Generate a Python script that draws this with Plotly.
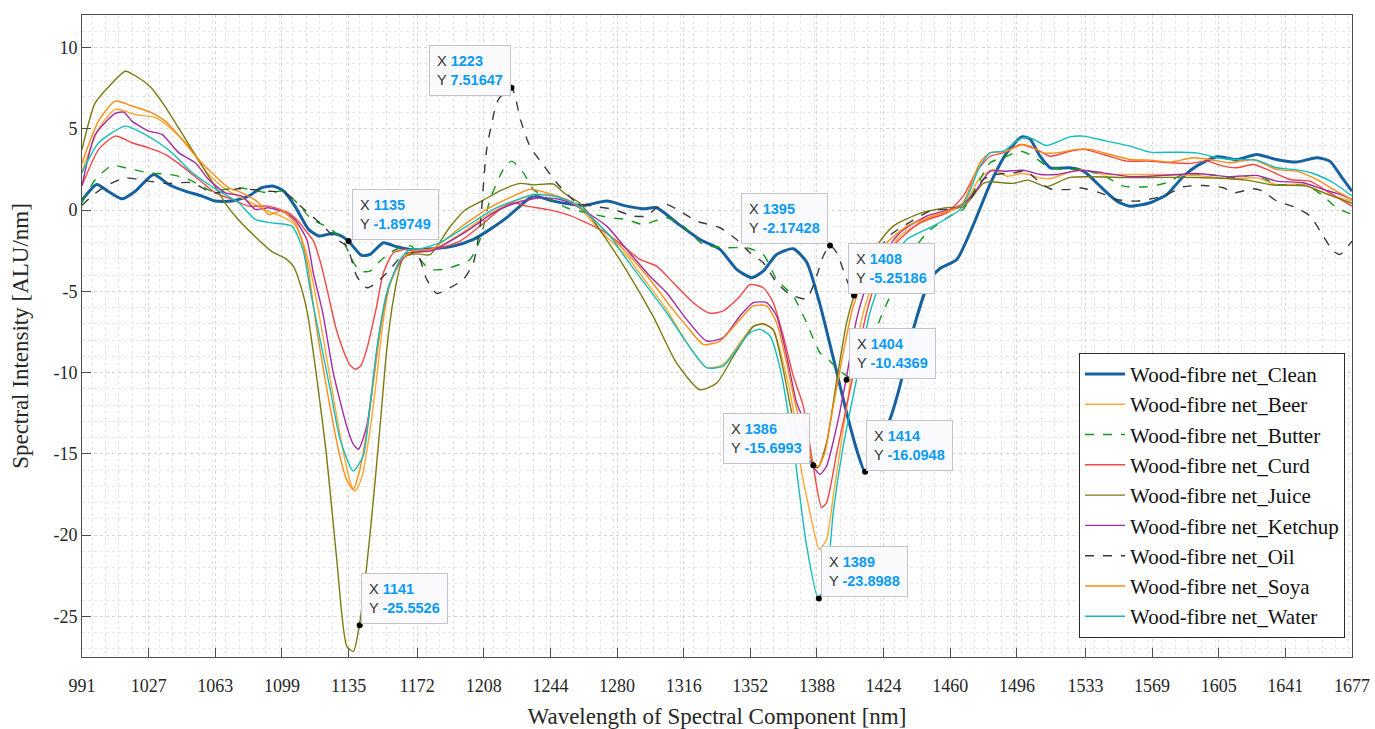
import plotly.graph_objects as go

# ---------------- data ----------------
clean_x = [991, 999, 1005, 1012.6, 1019.8, 1029.7, 1037.8, 1046.8, 1055.8, 1063, 1072, 1081, 1088, 1094.5, 1100, 1106,
           1113.4, 1119, 1126, 1130.4, 1134.8, 1142, 1146.6, 1153.8, 1161, 1168.2, 1180.8, 1191.6, 1202.4, 1211.4,
           1220.4, 1227.6, 1234.8, 1245.6, 1256.4, 1262, 1274.4, 1285.2, 1294.2, 1301.4, 1312.2, 1324.8, 1335.6,
           1344.6, 1352.7, 1359, 1366.2, 1375.2, 1382.4, 1389.6, 1396.8, 1404, 1409.4, 1414, 1420, 1427.4, 1432.8,
           1440, 1449, 1454.4, 1463.5, 1472.5, 1481.5, 1490.5, 1498.6, 1503, 1508.5, 1514, 1524.7, 1532, 1542.7,
           1550, 1557, 1568, 1577, 1586, 1593, 1604, 1614.7, 1625.5, 1636.3, 1647, 1658, 1665, 1672.3, 1677]
clean_y = [0.6, 1.57, 1.16, 0.69, 1.16, 2.19, 1.57, 1.16, 0.86, 0.55, 0.55, 0.86, 1.37, 1.47, 1.16, 0.24,
           -1.19, -1.6, -1.44, -1.56, -1.9, -2.79, -2.73, -2.01, -2.26, -2.42, -2.38, -2.22, -1.81, -1.19,
           -0.47, 0.24, 0.86, 0.55, 0.34, 0.28, 0.55, 0.24, 0.08, 0.14, -0.78, -1.81, -2.42,
           -3.65, -4.16, -3.76, -2.73, -2.38, -3.2, -5.8, -9.1, -12.47, -14.73, -16.1, -14.8, -12.88, -10.83,
           -7.34, -4.27, -3.6, -3.04, -0.9, 1.6, 3.52, 4.5, 4.38, 3.31, 2.6, 2.6, 2.39, 1.27,
           0.55, 0.24, 0.45, 0.96, 2.08, 2.7, 3.28, 3.11, 3.42, 3.11, 2.95, 3.22, 3.01, 1.88, 1.16]

beer_x = [991, 1000, 1009, 1019.8, 1030.6, 1039.6, 1048.6, 1055.8, 1063, 1070.2, 1080, 1090, 1099, 1106, 1111, 1115,
          1120, 1126, 1132, 1136, 1138.5, 1142, 1146, 1150, 1153.5, 1157.5, 1164, 1172, 1180, 1195, 1210, 1224,
          1236, 1245, 1253, 1260, 1272, 1285.2, 1296, 1306.8, 1317.6, 1328.4, 1337.4, 1346.4, 1353.6, 1359,
          1364.4, 1369.8, 1375.2, 1378.8, 1384.2, 1389.3, 1393.2, 1396.8, 1402.2, 1407.6, 1413, 1420.2, 1432.8,
          1447.2, 1461.6, 1468, 1476, 1483.3, 1490.5, 1499.5, 1508.5, 1513.9, 1530, 1542.7, 1557.1, 1575.1,
          1593.1, 1611, 1625.5, 1636.3, 1650.7, 1661.5, 1677]
beer_y = [2.4, 5.0, 6.19, 5.88, 5.68, 4.96, 3.94, 2.7, 1.78, 1.16, 0.6, 0.0, -0.4, -0.9, -2.2, -4.0,
          -7.0, -11.0, -14.8, -16.8, -17.3, -16.5, -14.0, -10.5, -7.0, -4.5, -3.0, -2.6, -2.5, -1.5, -0.3, 0.5,
          0.95, 0.9, 0.6, 0.1, -1.4, -2.83, -4.47, -6.11, -8.16, -9.7, -9.5, -8.16, -7.14, -7.03,
          -7.34, -9.4, -12.26, -15.5, -18.6, -20.87, -20.26, -17.6, -13.5, -9.4, -6.32, -3.86, -1.6,
          -0.6, 0.0, 0.4, 1.98, 2.5, 2.08, 2.25, 1.98, 1.93, 2.5, 2.19, 2.19, 2.19,
          2.13, 1.93, 1.98, 1.57, 1.57, 1.06, 0.55]

butter_x = [991, 998.2, 1007.2, 1014.4, 1027, 1037.8, 1046.8, 1054, 1061.2, 1068.4, 1075.6, 1091.8, 1099, 1106.2,
            1115.2, 1121, 1126.8, 1132.2, 1136.7, 1141.2, 1146.6, 1152, 1157.4, 1162.8, 1169.1, 1173.6, 1179,
            1186.2, 1195.2, 1200.6, 1206, 1211.4, 1218.6, 1223.1, 1229.4, 1234.8, 1243.8, 1252.8, 1263.6, 1276.2,
            1285.2, 1294.2, 1306.8, 1315.8, 1326.6, 1339.2, 1350, 1359, 1366.2, 1375.2, 1382.4, 1389.6, 1395,
            1400.4, 1406, 1412, 1417, 1422, 1429.2, 1438.2, 1447.3, 1459.8, 1467, 1474.3, 1481.5, 1490.5, 1497.7,
            1504.9, 1512.1, 1521.1, 1530, 1542.7, 1553.5, 1566.1, 1576.9, 1585.9, 1600, 1611, 1625.5, 1636.3,
            1652.5, 1661.5, 1668.7, 1677]
butter_y = [0.45, 1.88, 2.74, 2.6, 2.29, 2.19, 1.98, 1.57, 1.16, 1.27, 1.37, 1.06, 1.16, 0.55,
            -0.58, -0.9, -1.3, -1.91, -3.04, -3.76, -3.76, -3.14, -2.63, -2.32, -2.22, -3.04, -3.65,
            -3.65, -3.34, -3.04, -1.81, 0.65, 2.5, 3.01, 2.29, 1.27, 0.65, 0.14, -0.17, -0.47,
            -0.58, -0.89, -0.47, -0.99, -2.12, -2.32, -2.32, -2.73, -4.27, -5.3, -6.93, -8.78, -9.29,
            -9.91, -10.3, -9.6, -8.3, -6.73, -4.88, -2.83, -1.4, -0.37, 0.04, 1.47, 2.91, 3.31, 3.62,
            3.31, 2.7, 2.5, 2.5, 2.13, 1.47, 1.43, 1.68, 2.19, 2.19, 1.98, 2.13, 1.57,
            1.5, 0.86, 0.14, -0.27]

curd_x = [991, 1000, 1009, 1018, 1027, 1036, 1045, 1054, 1063, 1072, 1081, 1091.8, 1102.6, 1108, 1112, 1116, 1120,
          1124, 1128, 1132, 1135.5, 1138.5, 1141.5, 1144.8, 1150.2, 1153.8, 1159.2, 1166, 1170, 1184.4, 1195.2,
          1206, 1216.8, 1224, 1231.2, 1242, 1252.8, 1260, 1272.6, 1283.4, 1292.4, 1301.4, 1310.4, 1321.2, 1330.2,
          1337.4, 1346.4, 1351.8, 1359, 1364.4, 1369.8, 1375.2, 1380.6, 1386, 1390.5, 1393.2, 1398.7, 1404,
          1409.4, 1414.8, 1420.2, 1429.2, 1443.6, 1458, 1467, 1474.3, 1481.5, 1488.7, 1497.7, 1506.7, 1513.9,
          1524.7, 1531.9, 1542.7, 1555.3, 1566, 1578.7, 1589.5, 1598.5, 1607.5, 1614.7, 1623.7, 1631, 1643.5,
          1654.3, 1665, 1677]
curd_y = [1.5, 3.73, 4.55, 4.14, 3.83, 3.42, 2.7, 1.88, 1.06, 0.65, 0.24, 0.24, -0.17, -0.7, -1.3, -1.9, -3.3,
          -5.2, -7.2, -8.6, -9.5, -9.8, -9.6, -8.57, -5.9, -3.86, -2.63, -2.42, -2.5, -2.32, -1.91,
          -0.99, 0.04, 0.45, 0.24, 0.04, -0.27, -0.6, -1.3, -2.22, -3.04, -3.45, -4.47, -5.7, -6.35,
          -6.2, -5.3, -4.58, -4.78, -5.7, -7.75, -10.2, -12.06, -15.75, -18.3, -18.0, -14.93, -12.06,
          -9.19, -6.32, -4.27, -2.22, -0.78, -0.17, 0.86, 2.39, 3.31, 3.52, 4.03, 3.73, 3.31,
          3.62, 3.73, 3.42, 3.01, 3.01, 2.91, 2.87, 3.01, 2.7, 2.6, 2.8, 2.5, 1.88,
          1.78, 1.06, 0.24]

juice_x = [991, 998, 1005.4, 1014.4, 1020.7, 1027.9, 1036, 1045, 1054, 1063, 1068.4, 1075.6, 1084.6, 1093.6, 1100.8,
           1105.3, 1109.5, 1113, 1118, 1123, 1128.6, 1134, 1137.6, 1140.8, 1144.8, 1148.4, 1152, 1155.6, 1159.2,
           1164.6, 1172, 1179, 1189.8, 1198, 1207.8, 1217, 1227.6, 1235, 1245.6, 1252, 1260, 1270.8, 1285,
           1299.6, 1312.2, 1324.8, 1333.8, 1342.8, 1353.6, 1359, 1364.4, 1369.8, 1375.2, 1381, 1386, 1388.5,
           1393.2, 1398.7, 1404, 1408, 1413, 1420.2, 1429.2, 1443.6, 1458, 1467, 1477.8, 1481.5, 1494, 1502,
           1512, 1524.7, 1557, 1593, 1620, 1634.5, 1652.5, 1665, 1677]
juice_y = [3.73, 6.56, 7.58, 8.54, 8.2, 7.58, 6.35, 4.71, 3.07, 1.43, 0.41, -0.61, -1.64, -2.56, -2.97,
           -3.48, -4.8, -6.5, -10.5, -15.0, -21.5, -26.84, -27.15, -25.55, -21.9, -17.8, -13.3, -8.6, -5.5,
           -2.9, -2.7, -2.75, -1.03, 0.0, 0.61, 1.2, 1.64, 1.55, 1.6, 1.0, 0.41, -1.23, -3.69,
           -6.56, -9.42, -11.06, -10.65, -9.01, -7.17, -7.0, -7.38, -9.83, -12.9, -14.8, -15.7, -15.85,
           -14.3, -10.45, -6.93, -5.25, -3.65, -2.22, -0.99, -0.2, 0.15, 0.2, 1.64, 1.74, 1.64, 1.84,
           1.43, 2.01, 2.0, 2.0, 1.84, 1.54, 1.47, 0.92, 0.41]

ketchup_x = [991, 998.2, 1009, 1013.5, 1018, 1027, 1034.2, 1043.2, 1052.2, 1059.4, 1068.4, 1077.4, 1084.6, 1091.8,
             1100.8, 1106, 1112.4, 1116, 1121, 1126.7, 1134, 1137.5, 1140.3, 1144.8, 1148.4, 1152, 1157.4, 1162.8,
             1168.2, 1180, 1198.8, 1213.2, 1225.8, 1238.4, 1249.2, 1258.2, 1274.4, 1285.2, 1297.8, 1306.8, 1317.6,
             1328.4, 1337.4, 1346.4, 1353.6, 1360.8, 1366.2, 1371.6, 1377, 1380.6, 1386, 1389.6, 1393.2, 1398.7,
             1403.7, 1409.4, 1414.8, 1422, 1432.8, 1447.2, 1461.6, 1468.8, 1474.3, 1481.5, 1490.5, 1499.5, 1508.5,
             1517.5, 1530, 1542.7, 1557.1, 1575.1, 1593.1, 1611, 1625.5, 1636.3, 1650.7, 1661.5, 1670.5, 1677]
ketchup_y = [1.5, 4.65, 5.94, 6.02, 5.47, 4.86, 4.65, 3.53, 2.91, 1.88, 1.06, 0.86, 0.04, 0.14,
             -0.17, -0.6, -1.8, -3.9, -6.3, -10.0, -13.3, -14.4, -14.72, -13.3, -10.4, -7.34, -4.47, -3.24,
             -2.63, -2.5, -1.3, -0.17, 0.45, 0.76, 0.65, 0.24, -0.99, -2.42, -4.07, -5.09, -6.73,
             -8.06, -7.85, -6.52, -5.7, -5.7, -6.52, -8.98, -11.85, -12.87, -15.75, -16.26, -15.75, -13.3,
             -10.44, -6.73, -4.68, -3.04, -1.4, -0.37, 0.1, 0.55, 1.27, 2.39, 2.39, 2.45, 2.19,
             2.19, 2.45, 2.29, 2.05, 2.13, 2.25, 2.05, 2.13, 1.78, 1.68, 1.27, 0.96, 0.65]

oil_x = [991, 996.4, 1003.6, 1014.4, 1023.4, 1036, 1050.4, 1061.2, 1066.6, 1075.6, 1091.8, 1100.8, 1109.5, 1120,
         1128.6, 1134, 1139.4, 1144.8, 1150.2, 1157.4, 1164.6, 1171.8, 1177.2, 1182.6, 1189.8, 1197, 1202.4, 1206,
         1209.6, 1215.9, 1223, 1228, 1233, 1240, 1247.4, 1258.2, 1267.2, 1278, 1288.8, 1296, 1301.4, 1306.8, 1314,
         1323, 1335.6, 1344.6, 1351.8, 1359, 1366.2, 1373.4, 1382.4, 1387.8, 1391.4, 1395, 1398.7, 1404, 1408,
         1414, 1420, 1428, 1436, 1449, 1463.5, 1470.7, 1477.8, 1485, 1494, 1501.2, 1506.6, 1513.9, 1524.7, 1530,
         1540.9, 1549.9, 1560.7, 1575.1, 1585.9, 1596.7, 1607.5, 1612.9, 1623.7, 1629, 1636.3, 1647.1, 1654.3,
         1661.5, 1666.9, 1670.5, 1677]
oil_y = [0.3, 0.86, 1.47, 1.98, 1.84, 1.64, 1.68, 1.06, 1.1, 1.31, 1.16, 1.06, 0.2, -0.85,
         -1.81, -2.22, -4.07, -4.78, -4.47, -3.65, -2.73, -2.63, -4.27, -5.13, -4.78, -4.27, -3.24, -0.99,
         3.73, 6.8, 7.52, 5.5, 3.9, 2.8, 1.68, 0.45, 0.24, 0.04, -0.37, -0.37, 0.14, 0.34, -0.07,
         -0.68, -1.09, -1.81, -2.63, -3.24, -4.47, -5.19, -5.46, -4.07, -2.83, -2.17, -2.63, -4.27, -5.25,
         -3.8, -2.6, -1.5, -0.9, -0.07, 0.14, 0.66, 1.88, 2.19, 2.29, 2.39, 1.88, 1.31, 1.27, 1.37,
         1.06, 0.65, 0.55, 0.86, 1.43, 1.51, 1.37, 1.06, 1.31, 1.16, 0.55, 0.14, -0.37,
         -1.6, -2.53, -2.73, -1.91]

soya_x = [991, 1000, 1009, 1018, 1028.8, 1036, 1045, 1054, 1063, 1070.2, 1077.4, 1086.4, 1091.8, 1099, 1106.2, 1110,
          1113, 1118, 1124, 1130, 1134, 1137.5, 1141, 1145, 1148.5, 1152, 1156, 1163, 1170, 1180, 1195.2, 1209.6,
          1224, 1233, 1242, 1252.8, 1260, 1272, 1285.2, 1297.8, 1308.6, 1317.6, 1326.6, 1335.6, 1346.4, 1353.6,
          1360.8, 1366.2, 1371.6, 1377, 1380.6, 1386, 1388.7, 1392.3, 1396.8, 1402.2, 1407.6, 1414.8, 1423.8,
          1436.5, 1454.4, 1466, 1476, 1481.5, 1490.5, 1498.6, 1503, 1510.3, 1517.5, 1528.3, 1535.5, 1546.3,
          1557.1, 1567.9, 1578.7, 1591.3, 1600.3, 1611, 1623.7, 1636.3, 1647.1, 1657.9, 1666.9, 1677]
soya_y = [2.9, 5.5, 6.7, 6.4, 5.98, 5.47, 4.34, 3.11, 2.09, 1.37, 1.06, 0.45, -0.27, -0.07, -0.79, -2.0,
          -3.5, -7.5, -11.5, -15.0, -16.6, -17.2, -16.0, -13.5, -10.5, -7.5, -5.0, -3.1, -2.5, -2.4, -1.09, 0.04,
          0.86, 1.27, 1.06, 0.65, 0.14, -1.1, -2.63, -4.27, -5.9, -7.14, -8.27, -8.06, -6.73, -5.9,
          -5.9, -6.93, -9.4, -12.26, -13.5, -15.5, -15.8, -14.9, -12.06, -8.78, -5.9, -3.86, -2.22,
          -1.0, -0.2, 0.3, 2.91, 3.52, 3.62, 4.03, 3.93, 3.52, 3.52, 3.73, 3.73, 3.42,
          3.11, 3.07, 2.95, 3.22, 3.11, 2.91, 3.11, 2.5, 2.39, 1.88, 1.27, 0.65]

water_x = [991, 1000, 1014.4, 1023.4, 1032.4, 1039.6, 1048.6, 1059.4, 1066.6, 1075.6, 1084.6, 1093.6, 1104.4, 1110.5,
           1114.2, 1119.6, 1125, 1130.4, 1137.5, 1143, 1146.6, 1150.2, 1155.6, 1162.8, 1168.2, 1173.6, 1184.4,
           1198.8, 1213.2, 1224, 1234.8, 1245.6, 1256.4, 1263.6, 1276.2, 1285.2, 1296, 1306.8, 1317.6, 1328.4,
           1337.4, 1344.6, 1351.8, 1357.2, 1362.6, 1368, 1375.2, 1382.4, 1388.7, 1393.2, 1396.8, 1402.2, 1409.4,
           1416.6, 1425.6, 1436.5, 1450.8, 1465.3, 1470, 1476, 1481.5, 1488.7, 1497.7, 1503, 1512, 1524.7, 1531.9,
           1544.5, 1557.1, 1567.9, 1582.3, 1593.1, 1603.9, 1614.7, 1625.5, 1636.3, 1645.3, 1656.1, 1666.9, 1677]
water_y = [2.3, 4.14, 5.16, 4.75, 4.14, 3.53, 2.5, 1.57, 1.06, 0.45, -0.58, -0.79, -0.99, -2.5,
           -4.88, -7.96, -11.0, -14.1, -16.06, -15.1, -12.06, -8.57, -5.09, -3.04, -2.42, -2.38, -2.01,
           -0.99, 0.04, 0.55, 0.96, 0.86, 0.45, -0.17, -1.6, -3.04, -4.68, -6.32, -8.16, -9.7,
           -9.6, -8.57, -7.54, -7.34, -7.75, -9.7, -14.5, -20.67, -23.9, -22.7, -18.6, -14.5, -10.4,
           -6.32, -3.45, -1.81, -0.99, 0.04, 1.0, 2.7, 3.52, 3.62, 4.38, 4.45, 3.97, 4.5, 4.55,
           4.24, 3.93, 3.56, 3.56, 3.52, 3.22, 3.11, 3.07, 2.6, 2.5, 2.25, 1.68, 0.86]

series_names = ["Wood-fibre net_Clean", "Wood-fibre net_Beer", "Wood-fibre net_Butter", "Wood-fibre net_Curd",
                "Wood-fibre net_Juice", "Wood-fibre net_Ketchup", "Wood-fibre net_Oil", "Wood-fibre net_Soya",
                "Wood-fibre net_Water"]

# data tips (x, y) as displayed in the reference
tip_x = [1135, 1223, 1395, 1408, 1404, 1386, 1414, 1389, 1141]
tip_y = [-1.89749, 7.51647, -2.17428, -5.25186, -10.4369, -15.6993, -16.0948, -23.8988, -25.5526]
tip_labels = ["1135", "1223", "1395", "1408", "1404", "1386", "1414", "1389", "1141"]
tip_ylabels = ["-1.89749", "7.51647", "-2.17428", "-5.25186", "-10.4369", "-15.6993", "-16.0948", "-23.8988",
               "-25.5526"]

x_tick_labels = ["991", "1027", "1063", "1099", "1135", "1172", "1208", "1244", "1280", "1316", "1352", "1388",
                 "1424", "1460", "1496", "1533", "1569", "1605", "1641", "1677"]
y_tick_values = [-25, -20, -15, -10, -5, 0, 5, 10]

# ---------------- styling ----------------
styles = [
    dict(color="#1661a0", width=3.0, dash="solid"),
    dict(color="#FFA733", width=1.4, dash="solid"),
    dict(color="#16991a", width=1.4, dash="dash"),
    dict(color="#F24646", width=1.4, dash="solid"),
    dict(color="#7A7A12", width=1.4, dash="solid"),
    dict(color="#A22CA2", width=1.4, dash="solid"),
    dict(color="#3a3a3a", width=1.4, dash="dash"),
    dict(color="#FF8A12", width=1.4, dash="solid"),
    dict(color="#12BDBF", width=1.4, dash="solid"),
]
all_x = [clean_x, beer_x, butter_x, curd_x, juice_x, ketchup_x, oil_x, soya_x, water_x]
all_y = [clean_y, beer_y, butter_y, curd_y, juice_y, ketchup_y, oil_y, soya_y, water_y]

SERIF = "Liberation Serif"
fig = go.Figure()
for name, xs, ys, st in zip(series_names, all_x, all_y, styles):
    fig.add_trace(go.Scatter(x=xs, y=ys, mode="lines", name=name,
                             line=dict(color=st["color"], width=st["width"], dash=st["dash"],
                                       shape="spline", smoothing=0.6)))

fig.add_trace(go.Scatter(x=tip_x, y=tip_y, mode="markers", showlegend=False,
                         marker=dict(color="black", size=6)))

# data tip boxes: (xanchor, shift x, shift y)
tip_pos = [("left", 3, 1), ("right", -1, -8), ("right", -2, 1), ("left", -6, 1), ("left", 2, 1),
           ("right", -3, 1), ("left", 1, 1), ("left", 2, 1), ("left", 1, 1)]
for tx, ty, lx, ly, (xa, sx, sy) in zip(tip_x, tip_y, tip_labels, tip_ylabels, tip_pos):
    fig.add_annotation(
        x=tx, y=ty, xref="x", yref="y", showarrow=False, xanchor=xa, yanchor="bottom",
        xshift=sx, yshift=sy, align="left",
        text=("<span style='color:#333333'>X </span><b><span style='color:#0A9BF5'>%s</span></b><br>"
              "<span style='color:#333333'>Y </span><b><span style='color:#0A9BF5'>%s</span></b>" % (lx, ly)),
        font=dict(family="Liberation Sans", size=14.5, color="#333333"),
        bgcolor="rgba(250,250,253,0.97)", bordercolor="#c4c4c8", borderwidth=1, borderpad=7,
    )

fig.update_layout(
    width=1375, height=729,
    margin=dict(l=82, r=23, t=15, b=72),
    paper_bgcolor="white", plot_bgcolor="white",
    font=dict(family=SERIF, size=18, color="#262626"),
    showlegend=True,
    legend=dict(x=0.9945, y=0.03, xanchor="right", yanchor="bottom",
                bgcolor="white", bordercolor="#2b2b2b", borderwidth=1,
                font=dict(family=SERIF, size=21, color="#111111"),
                tracegroupgap=0, itemwidth=40, entrywidth=264, entrywidthmode="pixels"),
)
fig.update_xaxes(
    range=[991, 1677], tickmode="array", tickvals=[int(v) for v in x_tick_labels], ticktext=x_tick_labels,
    ticks="inside", ticklen=9, tickcolor="#4d4d4d", tickfont=dict(family=SERIF, size=18, color="#262626"),
    ticklabelstandoff=12, automargin=False,
    showline=True, linecolor="#4d4d4d", linewidth=1, mirror=True,
    showgrid=True, gridcolor="#d6d6d6", griddash="dot", gridwidth=1,
    minor=dict(dtick=36.105 / 5, showgrid=True, gridcolor="#e6e6e6", griddash="dot", ticks=""),
    zeroline=False,
    title=dict(text="Wavelength of Spectral Component [nm]", font=dict(family=SERIF, size=23, color="#262626"),
               standoff=13),
)
fig.update_yaxes(
    range=[-27.5, 12], tickmode="array", tickvals=y_tick_values, ticktext=[str(v) for v in y_tick_values],
    ticks="inside", ticklen=9, tickcolor="#4d4d4d", tickfont=dict(family=SERIF, size=18, color="#262626"),
    automargin=False,
    showline=True, linecolor="#4d4d4d", linewidth=1, mirror=True,
    showgrid=True, gridcolor="#d6d6d6", griddash="dot", gridwidth=1,
    minor=dict(dtick=1, showgrid=True, gridcolor="#e6e6e6", griddash="dot", ticks=""),
    zeroline=False,
    title=dict(text="Spectral Intensity [ALU/nm]", font=dict(family=SERIF, size=23, color="#262626"),
               standoff=18),
)

fig.write_html("out.html")
